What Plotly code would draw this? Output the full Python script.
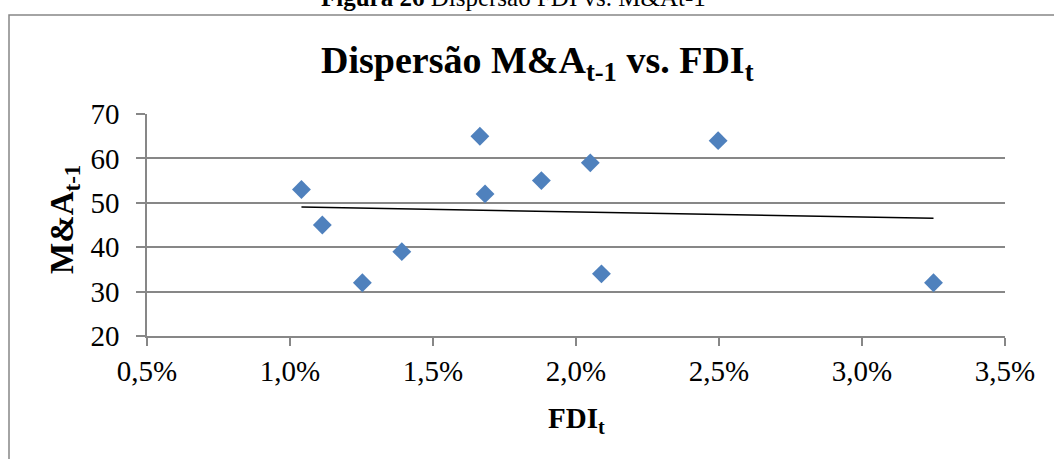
import numpy as np
import plotly.graph_objects as go

# FDI (% do PIB) no ano t e número de operações de M&A no ano t-1
fdi_t = [1.04, 1.113, 1.253, 1.391, 1.664, 1.682, 1.879, 2.05, 2.089, 2.497, 3.25]
ma_t_minus_1 = [53, 45, 32, 39, 65, 52, 55, 59, 34, 64, 32]

x_ticks = [0.5, 1.0, 1.5, 2.0, 2.5, 3.0, 3.5]
x_tick_labels = ["0,5%", "1,0%", "1,5%", "2,0%", "2,5%", "3,0%", "3,5%"]
y_ticks = [20, 30, 40, 50, 60, 70]

W, H = 1054, 459
L, R, T, B = 147, 49, 114, 123
pw, ph = W - L - R, H - T - B


def px(xp):
    return (xp - L) / pw


def py(yp):
    return (H - B - yp) / ph


FONT = "Liberation Serif"
GRID = "#878787"

# Linha de tendência linear (mínimos quadrados)
slope, intercept = np.polyfit(fdi_t, ma_t_minus_1, 1)
trend_x = [min(fdi_t), max(fdi_t)]
trend_y = [slope * v + intercept for v in trend_x]

fig = go.Figure()
fig.add_trace(go.Scatter(
    x=trend_x, y=trend_y, mode="lines",
    line=dict(color="black", width=1.5),
    hoverinfo="skip", showlegend=False,
))
fig.add_trace(go.Scatter(
    x=fdi_t, y=ma_t_minus_1, mode="markers",
    marker=dict(symbol="diamond", size=14.5, color="#4F81BD",
                line=dict(width=0)),
    showlegend=False,
))

fig.update_layout(
    width=W, height=H,
    margin=dict(l=L, r=R, t=T, b=B, pad=0),
    paper_bgcolor="white", plot_bgcolor="white",
    font=dict(family=FONT, color="black", size=29),
    xaxis=dict(
        range=[0.5, 3.5], tickvals=x_ticks, ticktext=x_tick_labels,
        showgrid=False, zeroline=False,
        showline=True, linecolor=GRID, linewidth=1.5,
        ticks="outside", ticklen=8, tickcolor=GRID, tickwidth=1.5,
        tickfont=dict(family=FONT, size=29, color="black"),
    ),
    yaxis=dict(
        range=[20, 70], tickvals=y_ticks,
        showgrid=True, gridcolor=GRID, gridwidth=1.5, zeroline=False,
        showline=True, linecolor=GRID, linewidth=1.5,
        ticks="outside", ticklen=9, tickcolor=GRID, tickwidth=1.5,
        ticklabelstandoff=11,
        tickfont=dict(family=FONT, size=29, color="black"),
    ),
    shapes=[dict(
        type="rect", xref="paper", yref="paper",
        x0=px(9), x1=px(1062), y0=py(470), y1=py(15),
        line=dict(color="#868686", width=1.5), fillcolor="rgba(0,0,0,0)",
    )],
    annotations=[
        dict(text="<b>Figura 26</b> Dispersão FDI vs. M&amp;At-1",
             xref="paper", yref="paper", x=px(513), y=py(13),
             xanchor="center", yanchor="bottom", showarrow=False,
             font=dict(family=FONT, size=25, color="black")),
        dict(text="<b>Dispersão M&amp;A<sub>t-1</sub> vs. FDI<sub>t</sub></b>",
             xref="paper", yref="paper", x=px(537), y=py(63),
             xanchor="center", yanchor="middle", showarrow=False,
             font=dict(family=FONT, size=38, color="black")),
        dict(text="<b>M&amp;A<sub>t-1</sub></b>",
             xref="paper", yref="paper", x=px(64), y=py(220),
             xanchor="center", yanchor="middle", textangle=-90,
             showarrow=False,
             font=dict(family=FONT, size=33, color="black")),
        dict(text="<b>FDI<sub>t</sub></b>",
             xref="paper", yref="paper", x=px(576), y=py(420),
             xanchor="center", yanchor="middle", showarrow=False,
             font=dict(family=FONT, size=29, color="black")),
    ],
)

fig.write_html("out.html")
